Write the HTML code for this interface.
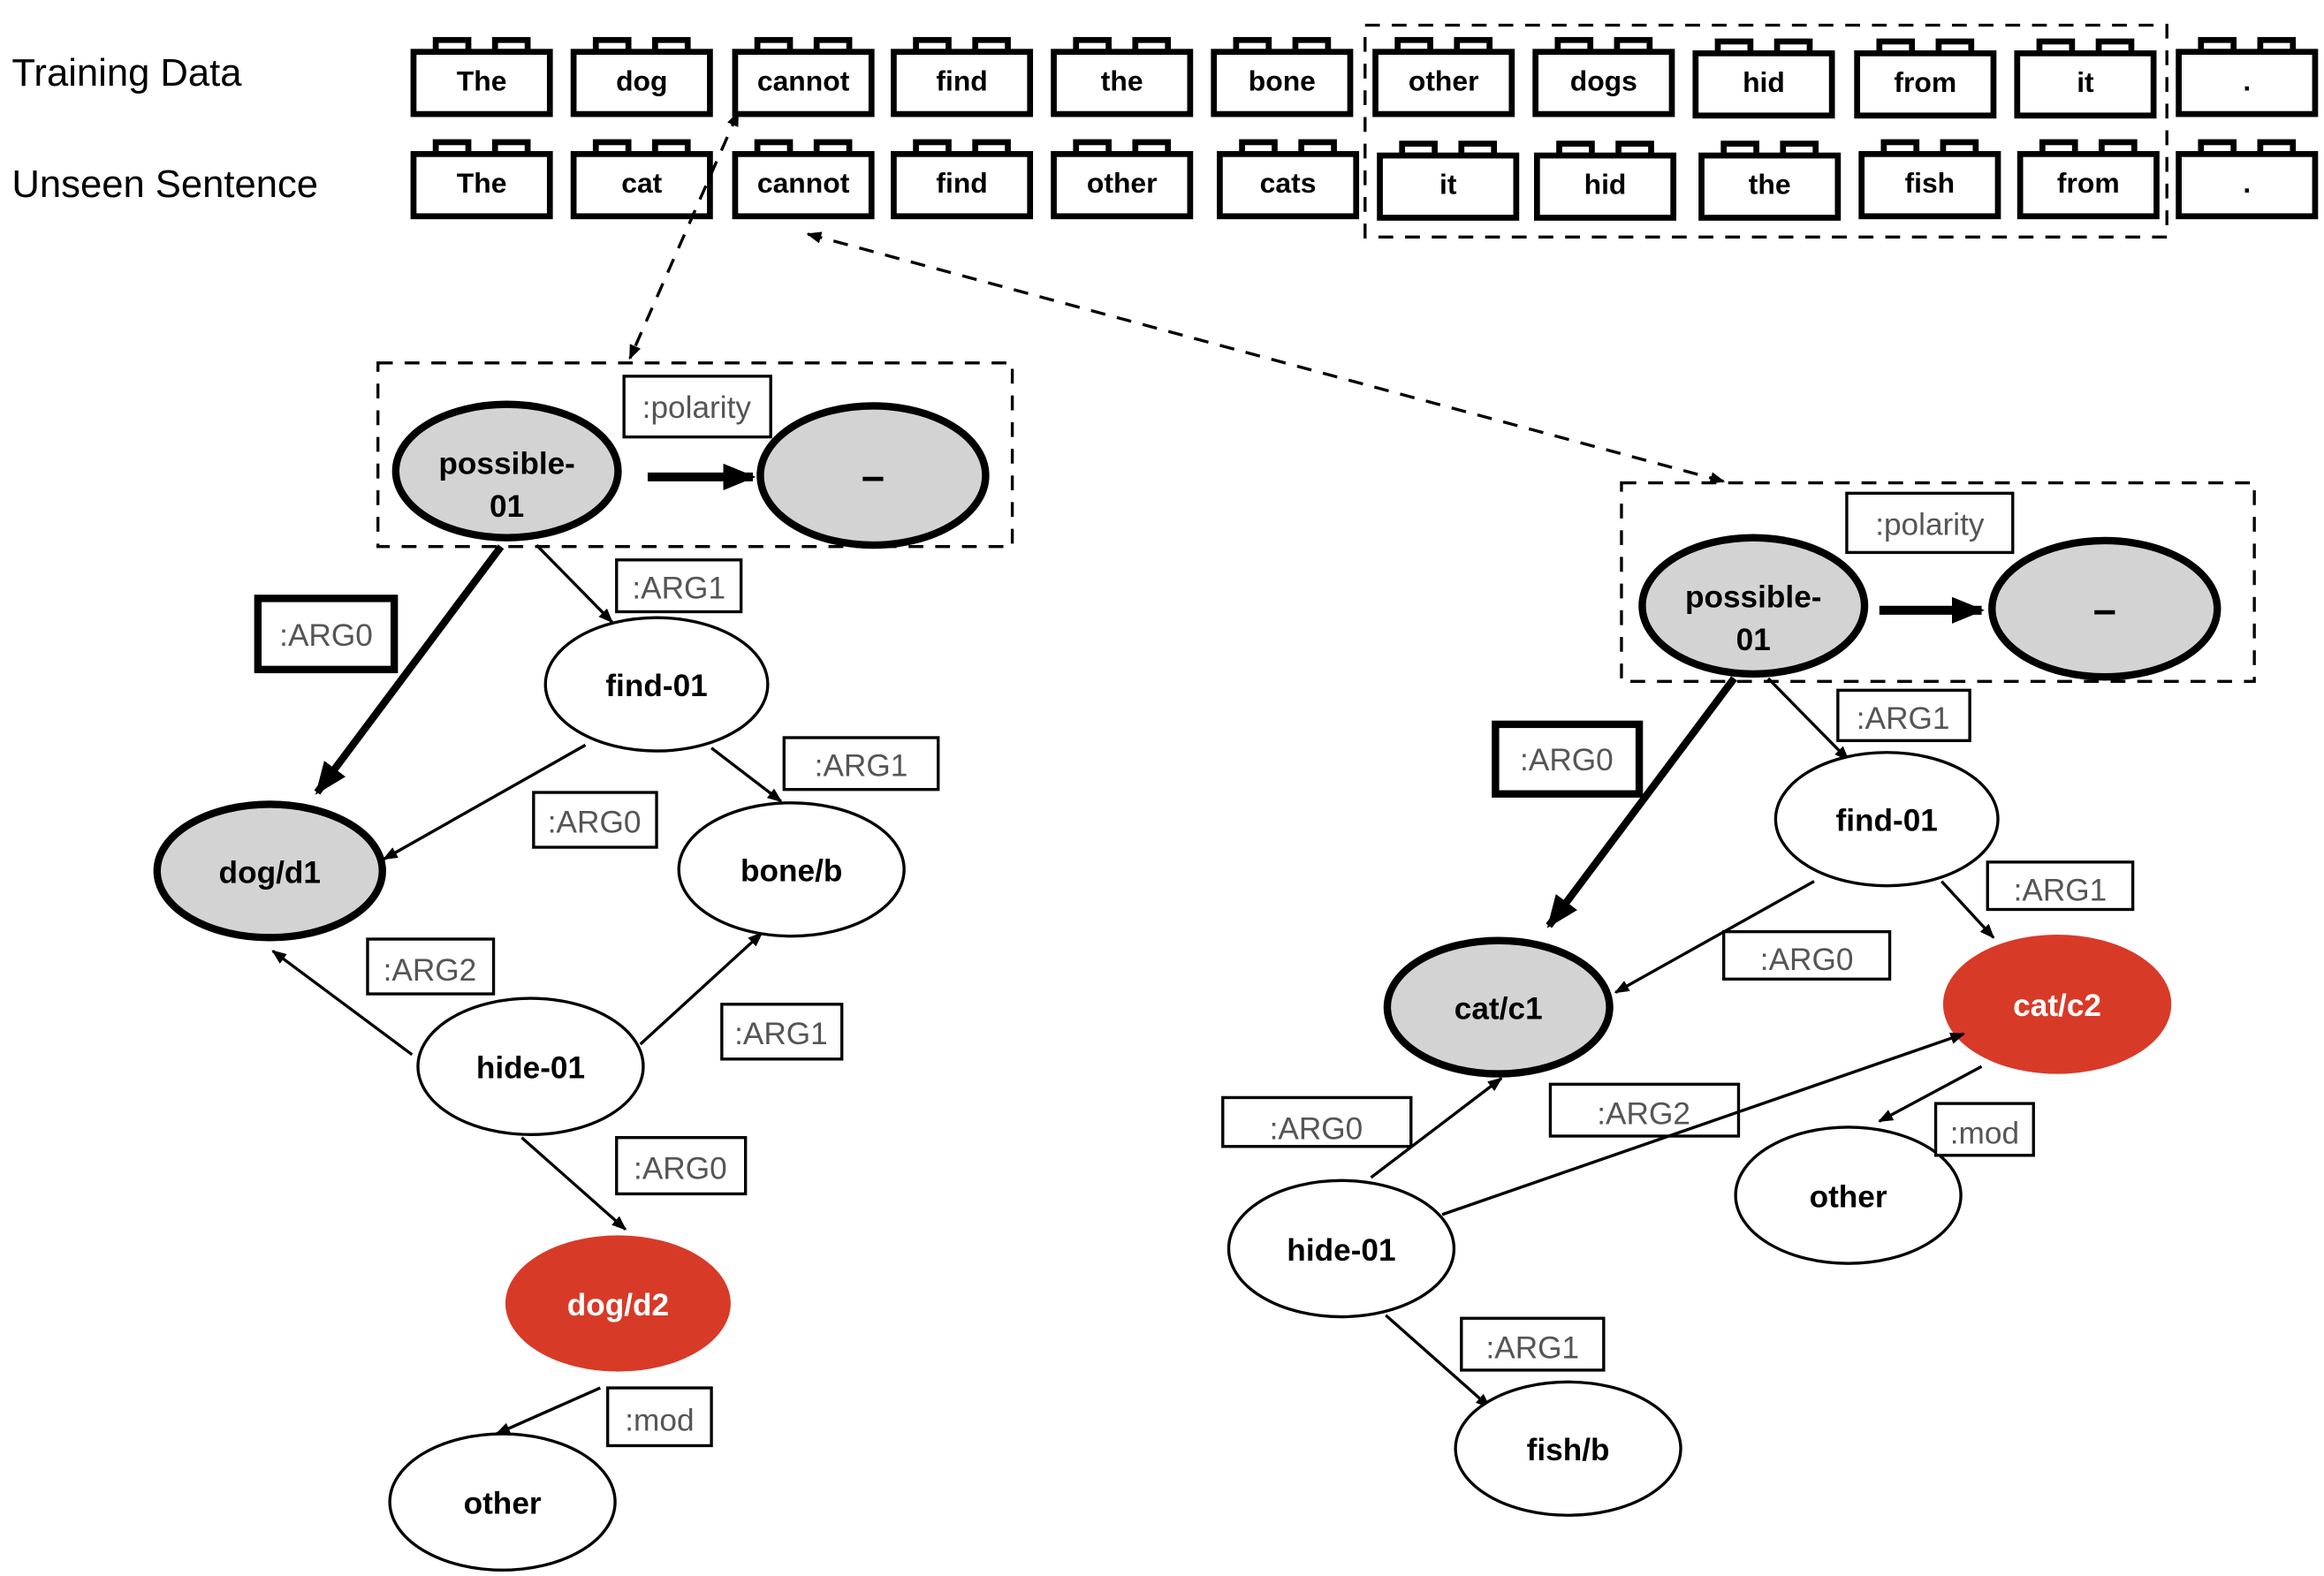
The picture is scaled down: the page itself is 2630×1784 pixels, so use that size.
<!DOCTYPE html>
<html><head><meta charset="utf-8"><style>
html,body{margin:0;padding:0;background:#fff;}
svg{display:block;}
text{font-family:"Liberation Sans",Arial,sans-serif;}
.n{font-weight:bold;font-size:21px;text-anchor:middle;fill:#000;}
.l{font-size:21px;text-anchor:middle;fill:#555;}
.w{font-size:19px;text-anchor:middle;fill:#000;font-weight:600;}
.d{font-weight:bold;font-size:28px;text-anchor:middle;fill:#000;}
</style></head><body>
<svg width="2630" height="1784" viewBox="0 0 1568 1064" preserveAspectRatio="none" xmlns="http://www.w3.org/2000/svg">
<defs>
<marker id="a" markerWidth="10" markerHeight="8" refX="9" refY="4" orient="auto" markerUnits="userSpaceOnUse"><path d="M0,0 L10,4 L0,8 z" fill="#000"/></marker>
<marker id="b" markerWidth="22" markerHeight="18" refX="20" refY="9" orient="auto" markerUnits="userSpaceOnUse"><path d="M0,0 L22,9 L0,18 z" fill="#000"/></marker>
<marker id="as" markerWidth="10" markerHeight="8" refX="1" refY="4" orient="auto" markerUnits="userSpaceOnUse"><path d="M10,0 L0,4 L10,8 z" fill="#000"/></marker>
<g id="brick" fill="#fff" stroke="#000" stroke-width="4"><rect x="15" y="-8" width="22" height="8"/><rect x="55" y="-8" width="22" height="8"/><rect x="0" y="0" width="92" height="42"/></g>
</defs>
<text x="8" y="58" style="font-size:26px">Training Data</text>
<text x="8" y="133" style="font-size:26px">Unseen Sentence</text>
<g>
<use href="#brick" x="279" y="35"/><text class="w" x="325" y="61">The</text>
<use href="#brick" x="387" y="35"/><text class="w" x="433" y="61">dog</text>
<use href="#brick" x="496" y="35"/><text class="w" x="542" y="61">cannot</text>
<use href="#brick" x="603" y="35"/><text class="w" x="649" y="61">find</text>
<use href="#brick" x="711" y="35"/><text class="w" x="757" y="61">the</text>
<use href="#brick" x="819" y="35"/><text class="w" x="865" y="61">bone</text>
<use href="#brick" x="928" y="35"/><text class="w" x="974" y="61">other</text>
<use href="#brick" x="1036" y="35"/><text class="w" x="1082" y="61">dogs</text>
<use href="#brick" x="1144" y="36"/><text class="w" x="1190" y="62">hid</text>
<use href="#brick" x="1253" y="36"/><text class="w" x="1299" y="62">from</text>
<use href="#brick" x="1361" y="36"/><text class="w" x="1407" y="62">it</text>
<use href="#brick" x="1470" y="35"/><text class="w" x="1516" y="61">.</text>
<use href="#brick" x="279" y="104"/><text class="w" x="325" y="130">The</text>
<use href="#brick" x="387" y="104"/><text class="w" x="433" y="130">cat</text>
<use href="#brick" x="496" y="104"/><text class="w" x="542" y="130">cannot</text>
<use href="#brick" x="603" y="104"/><text class="w" x="649" y="130">find</text>
<use href="#brick" x="711" y="104"/><text class="w" x="757" y="130">other</text>
<use href="#brick" x="823" y="104"/><text class="w" x="869" y="130">cats</text>
<use href="#brick" x="931" y="105"/><text class="w" x="977" y="131">it</text>
<use href="#brick" x="1037" y="105"/><text class="w" x="1083" y="131">hid</text>
<use href="#brick" x="1148" y="105"/><text class="w" x="1194" y="131">the</text>
<use href="#brick" x="1256" y="104"/><text class="w" x="1302" y="130">fish</text>
<use href="#brick" x="1363" y="104"/><text class="w" x="1409" y="130">from</text>
<use href="#brick" x="1470" y="104"/><text class="w" x="1516" y="130">.</text>
</g>
<rect x="921" y="17" width="541" height="143" fill="none" stroke="#000" stroke-width="2" stroke-dasharray="10,8"/>
<line x1="498" y1="76" x2="425" y2="242" stroke="#000" stroke-width="2" stroke-dasharray="10,8" marker-start="url(#as)" marker-end="url(#a)"/>
<line x1="545" y1="158" x2="1163" y2="325" stroke="#000" stroke-width="2" stroke-dasharray="10,8" marker-start="url(#as)" marker-end="url(#a)"/>

<!-- left graph -->
<rect x="255" y="245" width="428" height="124" fill="none" stroke="#000" stroke-width="2" stroke-dasharray="10,8"/>
<line x1="437" y1="322" x2="508" y2="322" stroke="#000" stroke-width="6" marker-end="url(#b)"/>
<rect x="421" y="254" width="99" height="41" fill="#fff" stroke="#000" stroke-width="2"/><text class="l" x="470" y="282">:polarity</text>
<line x1="338" y1="369" x2="214" y2="535" stroke="#000" stroke-width="5" marker-end="url(#b)"/>
<line x1="362" y1="368" x2="413" y2="420" stroke="#000" stroke-width="2" marker-end="url(#a)"/>
<line x1="480" y1="505" x2="527" y2="541" stroke="#000" stroke-width="2" marker-end="url(#a)"/>
<line x1="395" y1="503" x2="259" y2="580" stroke="#000" stroke-width="2" marker-end="url(#a)"/>
<line x1="278" y1="712" x2="184" y2="642" stroke="#000" stroke-width="2" marker-end="url(#a)"/>
<line x1="432" y1="705" x2="514" y2="630" stroke="#000" stroke-width="2" marker-end="url(#a)"/>
<line x1="352" y1="768" x2="422" y2="830" stroke="#000" stroke-width="2" marker-end="url(#a)"/>
<line x1="405" y1="937" x2="335" y2="968" stroke="#000" stroke-width="2" marker-end="url(#a)"/>
<ellipse cx="342" cy="318" rx="75" ry="45" fill="#d3d3d3" stroke="#000" stroke-width="5"/><text class="n" x="342" y="320">possible-</text><text class="n" x="342" y="349">01</text>
<ellipse cx="589" cy="321" rx="76" ry="47" fill="#d3d3d3" stroke="#000" stroke-width="5"/><text class="d" x="589" y="331">–</text>
<rect x="174" y="404" width="92" height="48" fill="#fff" stroke="#000" stroke-width="5"/><text class="l" x="220" y="436">:ARG0</text>
<rect x="416" y="378" width="84" height="35" fill="#fff" stroke="#000" stroke-width="2"/><text class="l" x="458" y="404">:ARG1</text>
<ellipse cx="443" cy="462" rx="75" ry="45" fill="#fff" stroke="#000" stroke-width="2"/><text class="n" x="443" y="470">find-01</text>
<rect x="529" y="498" width="104" height="35" fill="#fff" stroke="#000" stroke-width="2"/><text class="l" x="581" y="524">:ARG1</text>
<rect x="360" y="535" width="83" height="37" fill="#fff" stroke="#000" stroke-width="2"/><text class="l" x="401" y="562">:ARG0</text>
<ellipse cx="182" cy="588" rx="76" ry="45" fill="#d3d3d3" stroke="#000" stroke-width="5"/><text class="n" x="182" y="596">dog/d1</text>
<ellipse cx="534" cy="587" rx="76" ry="45" fill="#fff" stroke="#000" stroke-width="2"/><text class="n" x="534" y="595">bone/b</text>
<rect x="248" y="634" width="85" height="37" fill="#fff" stroke="#000" stroke-width="2"/><text class="l" x="290" y="662">:ARG2</text>
<rect x="487" y="678" width="81" height="37" fill="#fff" stroke="#000" stroke-width="2"/><text class="l" x="527" y="705">:ARG1</text>
<ellipse cx="358" cy="720" rx="76" ry="46" fill="#fff" stroke="#000" stroke-width="2"/><text class="n" x="358" y="728">hide-01</text>
<rect x="416" y="768" width="87" height="38" fill="#fff" stroke="#000" stroke-width="2"/><text class="l" x="459" y="796">:ARG0</text>
<ellipse cx="417" cy="880" rx="76" ry="46" fill="#d83a28"/><text class="n" x="417" y="888" style="fill:#fff">dog/d2</text>
<rect x="410" y="937" width="70" height="39" fill="#fff" stroke="#000" stroke-width="2"/><text class="l" x="445" y="966">:mod</text>
<ellipse cx="339" cy="1014" rx="76" ry="46" fill="#fff" stroke="#000" stroke-width="2"/><text class="n" x="339" y="1022">other</text>

<!-- right graph -->
<rect x="1094" y="326" width="427" height="134" fill="none" stroke="#000" stroke-width="2" stroke-dasharray="10,8"/>
<line x1="1268" y1="412" x2="1337" y2="412" stroke="#000" stroke-width="6" marker-end="url(#b)"/>
<rect x="1246" y="333" width="112" height="40" fill="#fff" stroke="#000" stroke-width="2"/><text class="l" x="1302" y="361">:polarity</text>
<line x1="1170" y1="458" x2="1045" y2="625" stroke="#000" stroke-width="5" marker-end="url(#b)"/>
<line x1="1193" y1="458" x2="1247" y2="513" stroke="#000" stroke-width="2" marker-end="url(#a)"/>
<line x1="1224" y1="595" x2="1090" y2="670" stroke="#000" stroke-width="2" marker-end="url(#a)"/>
<line x1="1310" y1="595" x2="1345" y2="633" stroke="#000" stroke-width="2" marker-end="url(#a)"/>
<line x1="1337" y1="720" x2="1268" y2="757" stroke="#000" stroke-width="2" marker-end="url(#a)"/>
<line x1="925" y1="795" x2="1013" y2="728" stroke="#000" stroke-width="2" marker-end="url(#a)"/>
<line x1="935" y1="888" x2="1005" y2="950" stroke="#000" stroke-width="2" marker-end="url(#a)"/>
<ellipse cx="1183" cy="409" rx="75" ry="46" fill="#d3d3d3" stroke="#000" stroke-width="5"/><text class="n" x="1183" y="410">possible-</text><text class="n" x="1183" y="439">01</text>
<ellipse cx="1420" cy="411" rx="76" ry="46" fill="#d3d3d3" stroke="#000" stroke-width="5"/><text class="d" x="1420" y="421">–</text>
<rect x="1240" y="466" width="89" height="34" fill="#fff" stroke="#000" stroke-width="2"/><text class="l" x="1284" y="492">:ARG1</text>
<rect x="1009" y="489" width="97" height="47" fill="#fff" stroke="#000" stroke-width="5"/><text class="l" x="1057" y="520">:ARG0</text>
<ellipse cx="1273" cy="553" rx="75" ry="45" fill="#fff" stroke="#000" stroke-width="2"/><text class="n" x="1273" y="561">find-01</text>
<rect x="1341" y="582" width="98" height="32" fill="#fff" stroke="#000" stroke-width="2"/><text class="l" x="1390" y="608">:ARG1</text>
<rect x="1163" y="629" width="112" height="32" fill="#fff" stroke="#000" stroke-width="2"/><text class="l" x="1219" y="655">:ARG0</text>
<ellipse cx="1011" cy="680" rx="75" ry="45" fill="#d3d3d3" stroke="#000" stroke-width="5"/><text class="n" x="1011" y="688">cat/c1</text>
<ellipse cx="1388" cy="678" rx="77" ry="47" fill="#d83a28"/><text class="n" x="1388" y="686" style="fill:#fff">cat/c2</text>
<rect x="825" y="741" width="127" height="33" fill="#fff" stroke="#000" stroke-width="2"/><text class="l" x="888" y="769">:ARG0</text>
<rect x="1046" y="732" width="127" height="35" fill="#fff" stroke="#000" stroke-width="2"/><text class="l" x="1109" y="759">:ARG2</text>
<line x1="973" y1="820" x2="1325" y2="698" stroke="#000" stroke-width="2" marker-end="url(#a)"/>
<ellipse cx="1247" cy="807" rx="76" ry="46" fill="#fff" stroke="#000" stroke-width="2"/><text class="n" x="1247" y="815">other</text>
<rect x="1306" y="745" width="66" height="35" fill="#fff" stroke="#000" stroke-width="2"/><text class="l" x="1339" y="772">:mod</text>
<ellipse cx="905" cy="843" rx="76" ry="46" fill="#fff" stroke="#000" stroke-width="2"/><text class="n" x="905" y="851">hide-01</text>
<rect x="986" y="890" width="96" height="35" fill="#fff" stroke="#000" stroke-width="2"/><text class="l" x="1034" y="917">:ARG1</text>
<ellipse cx="1058" cy="978" rx="76" ry="45" fill="#fff" stroke="#000" stroke-width="2"/><text class="n" x="1058" y="986">fish/b</text>
</svg>
</body></html>
